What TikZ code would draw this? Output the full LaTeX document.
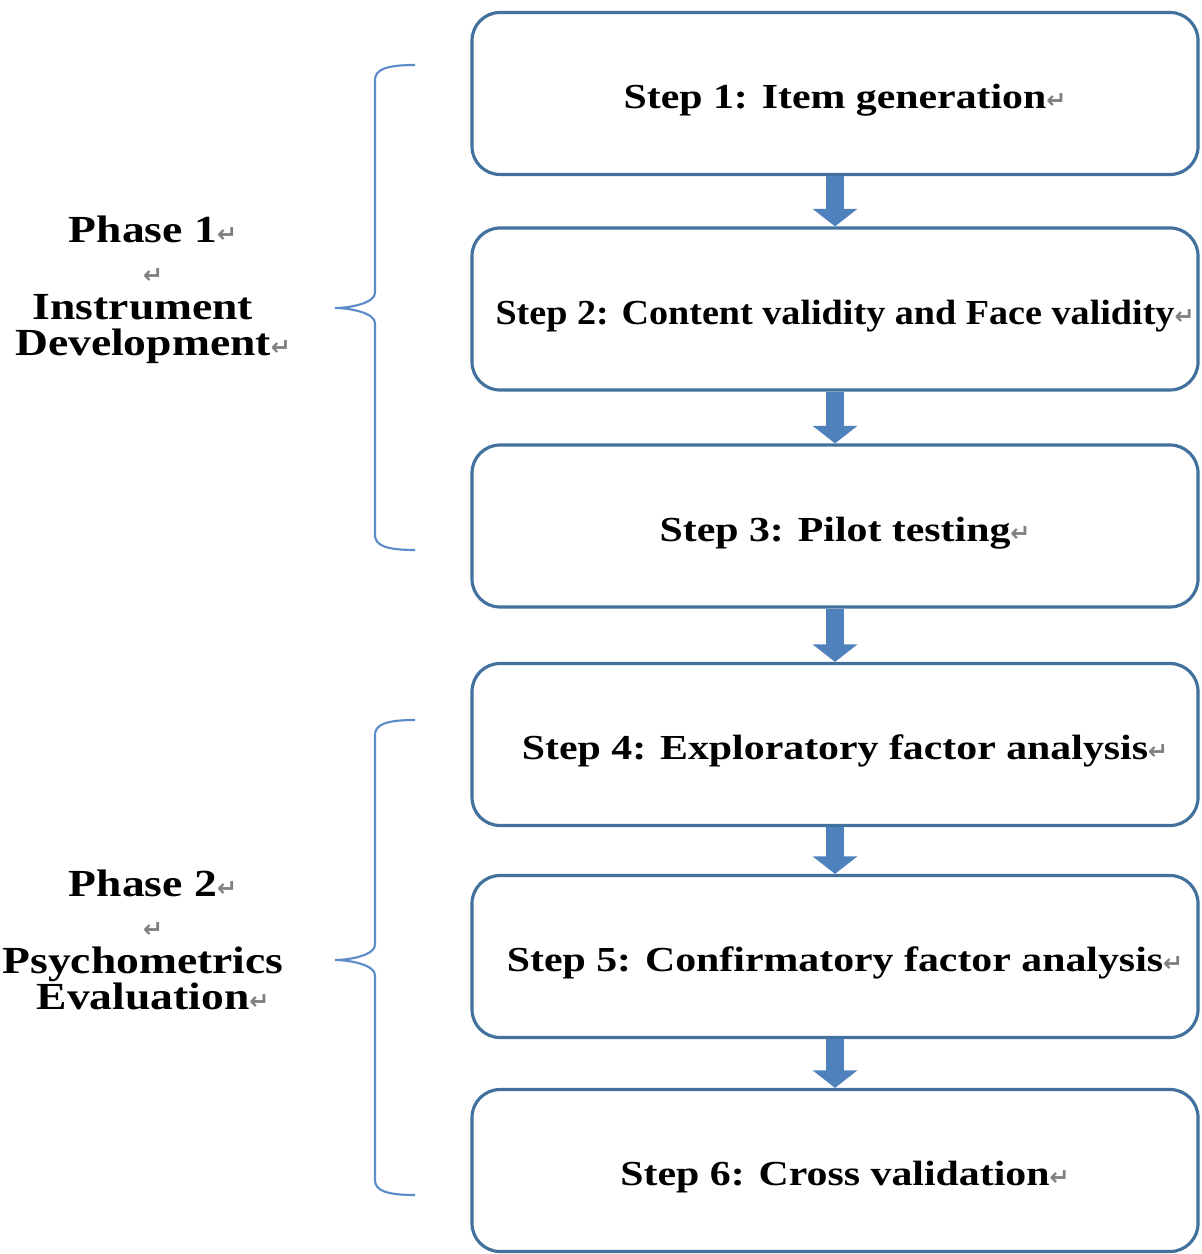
\documentclass[tikz,border=0pt]{standalone}
\usepackage{fontspec}
\setmainfont{Liberation Serif}[FakeStretch=1.19]
\newfontfamily\narrowfont{Liberation Serif}[FakeStretch=1.085]
\newfontfamily\retfont{DejaVu Sans}
\usetikzlibrary{arrows.meta}
\definecolor{boxline}{HTML}{41719C}
\definecolor{arrowfill}{HTML}{4F81BD}
\definecolor{braceline}{HTML}{5B8BC9}
\newcommand\ret{\rlap{\retfont\fontsize{6.8}{6.8}\selectfont\color{gray}↵}}

\begin{document}
\begin{tikzpicture}[stepbox/.style={draw=boxline,line width=0.9pt,rounded corners=0.28cm,
    minimum width=7.26cm,minimum height=1.62cm,inner sep=0pt,text height=9.6pt,text depth=0.9pt,
    font=\fontsize{10}{12}\selectfont\bfseries},
  phasetext/.style={align=center,inner sep=0pt,font=\fontsize{10.9}{10.2}\selectfont\bfseries},
  flowarrow/.style={draw=arrowfill,line width=5pt,-{Triangle[width=12.5pt,length=5pt]}},
  phasebrace/.style={draw=braceline,line width=0.6pt}]
\useasboundingbox (0,0) rectangle (12.01,-12.54);
    \node[stepbox] (s1) at (8.35,-0.935) {Step 1: Item generation\ret};
    \node[stepbox] (s2) at (8.35,-3.09) {\narrowfont Step 2: Content validity and Face validity\ret};
    \node[stepbox] (s3) at (8.35,-5.26) {Step 3: Pilot testing\ret};
    \node[stepbox] (s4) at (8.35,-7.445) {Step 4: Exploratory factor analysis\ret};
    \node[stepbox] (s5) at (8.35,-9.565) {Step 5: Confirmatory factor analysis\ret};
    \node[stepbox] (s6) at (8.35,-11.705) {Step 6: Cross validation\ret};
    \draw[flowarrow] (s1) -- (s2);
    \draw[flowarrow] (s2) -- (s3);
    \draw[flowarrow] (s3) -- (s4);
    \draw[flowarrow] (s4) -- (s5);
    \draw[flowarrow] (s5) -- (s6);
    \node[phasetext] (p1) at (1.43,-2.90) {Phase 1\ret\\[1.4pt] \ret\\ Instrument\\ Development\ret};
    \node[phasetext] (p2) at (1.43,-9.40) {Phase 2\ret\\[1.4pt] \ret\\ Psychometrics\\ Evaluation\ret};
    \draw[phasebrace] (4.15,-0.65) .. controls (3.85,-0.65) and (3.75,-0.70) .. (3.75,-0.80)
      -- (3.75,-2.93) .. controls (3.75,-3.03) and (3.50,-3.08) .. (3.35,-3.08)
      .. controls (3.50,-3.08) and (3.75,-3.13) .. (3.75,-3.23)
      -- (3.75,-5.35) .. controls (3.75,-5.45) and (3.85,-5.50) .. (4.15,-5.50);
    \draw[phasebrace] (4.15,-7.20) .. controls (3.85,-7.20) and (3.75,-7.25) .. (3.75,-7.35)
      -- (3.75,-9.45) .. controls (3.75,-9.55) and (3.50,-9.60) .. (3.35,-9.60)
      .. controls (3.50,-9.60) and (3.75,-9.65) .. (3.75,-9.75)
      -- (3.75,-11.80) .. controls (3.75,-11.90) and (3.85,-11.95) .. (4.15,-11.95);
\end{tikzpicture}
\end{document}
